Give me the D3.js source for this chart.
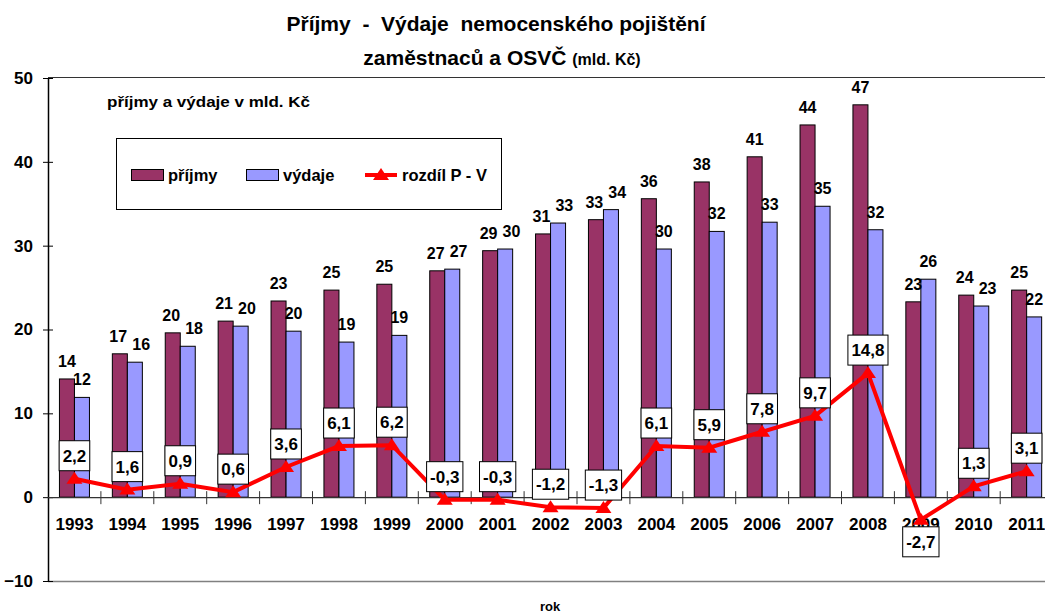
<!DOCTYPE html>
<html><head><meta charset="utf-8">
<script src="https://cdn.jsdelivr.net/npm/d3@7"></script>
<style>
body{margin:0;background:#fff}
svg{display:block}
text{font-family:"Liberation Sans",Arial,sans-serif;font-weight:bold;fill:#000}
</style>
</head><body>
<svg id="c" width="1045" height="615"></svg>
<script>
// ---- data ----
const years = ["1993","1994","1995","1996","1997","1998","1999","2000","2001","2002","2003","2004","2005","2006","2007","2008","2009","2010","2011"];
const prijmy = [14.1,17.1,19.6,21.0,23.4,24.7,25.4,27.0,29.4,31.4,33.1,35.6,37.6,40.6,44.4,46.8,23.3,24.1,24.7];
const vydaje = [11.9,16.1,18.0,20.4,19.8,18.5,19.3,27.2,29.6,32.7,34.3,29.6,31.7,32.8,34.7,31.9,26.0,22.8,21.5];
const rozdil = [2.2,0.9,1.6,0.6,3.6,6.1,6.2,-0.3,-0.3,-1.2,-1.3,6.1,5.9,7.8,9.7,14.8,-2.7,1.3,3.1];
const rozdilLabels = ["2,2","1,6","0,9","0,6","3,6","6,1","6,2","-0,3","-0,3","-1,2","-1,3","6,1","5,9","7,8","9,7","14,8","-2,7","1,3","3,1"];
const yTicks = [-10,0,10,20,30,40,50];
const seriesNames = ["příjmy","výdaje","rozdíl P - V"];
const titleLine1 = "Příjmy  -  Výdaje  nemocenského pojištění";
const titleLine2 = "zaměstnaců a OSVČ";
const titleUnit = "(mld. Kč)";
const subTitle = "příjmy a výdaje v mld. Kč";
const xTitle = "rok";

(function() {
// ---- styles ----
const colP = "#993366", colV = "#9999FF", colL = "#FF0000";
const FF = '"Liberation Sans",Arial,sans-serif';

const svg = d3.select("#c");
const pLeft = 48, pTop = 78, pBottom = 581, step = 52.9;
const x = d3.scaleBand().domain(years).range([pLeft, pLeft + step * years.length]).padding(0);
const xs = d3.scaleBand().domain(["p","v"]).range([0, x.bandwidth()]).paddingInner(0).paddingOuter(0.763);
const y = d3.scaleLinear().domain([-10, 50]).range([pBottom, pTop]);

const rows = years.map((yr, i) => ({yr, p: prijmy[i], v: vydaje[i], d: rozdil[i], lab: rozdilLabels[i]}));

// frame
svg.append("line").attr("x1", pLeft).attr("x2", 1045).attr("y1", pTop - 0.5).attr("y2", pTop - 0.5).attr("stroke", "#333").attr("stroke-width", 1.2);
svg.append("line").attr("x1", pLeft).attr("x2", 1045).attr("y1", pBottom + 0.5).attr("y2", pBottom + 0.5).attr("stroke", "#808080").attr("stroke-width", 1.5);

// bars
const g = svg.append("g");
const grp = g.selectAll("g.yr").data(rows).join("g").attr("transform", d => `translate(${x(d.yr)},0)`);
grp.append("rect").attr("x", xs("p")).attr("width", xs.bandwidth())
  .attr("y", d => y(Math.max(0, d.p))).attr("height", d => Math.abs(y(d.p) - y(0)))
  .attr("fill", colP).attr("stroke", "#000").attr("stroke-width", 1);
grp.append("rect").attr("x", xs("v")).attr("width", xs.bandwidth())
  .attr("y", d => y(Math.max(0, d.v))).attr("height", d => Math.abs(y(d.v) - y(0)))
  .attr("fill", colV).attr("stroke", "#000").attr("stroke-width", 1);
const tp = grp.append("text").attr("x", xs("p") + xs.bandwidth() / 2).attr("y", d => y(d.p) - 12)
  .attr("text-anchor", "middle").style("font-size", "16px").text(d => d3.format(".0f")(d.p));
const tv = grp.append("text").attr("x", xs("v") + xs.bandwidth() / 2).attr("y", d => y(d.v) - 12)
  .attr("text-anchor", "middle").style("font-size", "16px").text(d => d3.format(".0f")(d.v));
// avoid overlap of the two value labels in a group
grp.each(function(d) {
  const gp = d3.select(this);
  const a = gp.select("text:nth-of-type(1)").node(), b = gp.select("text:nth-of-type(2)").node();
  if (Math.abs(y(d.p) - y(d.v)) < 14) {
    const ba = a.getBBox(), bb = b.getBBox();
    const need = ba.x + ba.width + 5 - bb.x;
    if (need > 0) {
      d3.select(a).attr("x", +d3.select(a).attr("x") - need * 0.2);
      d3.select(b).attr("x", +d3.select(b).attr("x") + need * 0.8);
    }
  }
});

// y axis
const yAxis = svg.append("g").attr("transform", `translate(${pLeft},0)`)
  .call(d3.axisLeft(y).tickValues(yTicks).tickSize(5).tickPadding(10).tickFormat(d3.format("d")));
yAxis.select(".domain").attr("stroke", "#000").attr("stroke-width", 1.5).attr("d", `M0.5,${pTop}V${pBottom}`);
yAxis.selectAll(".tick line").attr("x1", -5).attr("x2", 5).attr("stroke", "#000");
yAxis.selectAll(".tick text").style("font-size", "17px").style("font-family", FF).style("font-weight", "bold").attr("fill", "#000");

// zero axis with category ticks
const xAxis = svg.append("g").attr("transform", `translate(0,${y(0)})`)
  .call(d3.axisBottom(x).tickSize(0).tickPadding(21));
xAxis.select(".domain").attr("stroke", "#333").attr("stroke-width", 1.3).attr("d", `M${pLeft},0.5H1045`);
xAxis.selectAll(".tick text").style("font-size", "17px").style("font-family", FF).style("font-weight", "bold").attr("fill", "#000");
const bounds = years.slice(1).map(yr => x(yr));
xAxis.selectAll("line.ct").data(bounds).join("line").attr("class", "ct")
  .attr("x1", d => d).attr("x2", d => d).attr("y1", -6).attr("y2", 7).attr("stroke", "#333").attr("stroke-width", 1);

// difference line
const cx = d => x(d.yr) + x.bandwidth() / 2;
const line = d3.line().x(cx).y(d => y(d.d));
svg.append("path").datum(rows).attr("d", line).attr("fill", "none").attr("stroke", colL).attr("stroke-width", 4).attr("stroke-linejoin", "miter");
const tri = "M0,-7L8,5L-8,5Z";
svg.selectAll("path.mk").data(rows).join("path").attr("class", "mk")
  .attr("transform", d => `translate(${cx(d)},${y(d.d)})`).attr("d", tri).attr("fill", colL);

// label boxes
const lb = svg.selectAll("g.lb").data(rows).join("g").attr("class", "lb")
  .attr("transform", d => `translate(${cx(d)},${d.d < -2 ? y(d.d) + 22 : y(d.d) - 23})`);
lb.append("rect").attr("fill", "#fff").attr("stroke", "#000").attr("stroke-width", 1);
lb.append("text").attr("text-anchor", "middle").attr("dy", "0.36em").style("font-size", "17px").text(d => d.lab);
lb.each(function() {
  const t = d3.select(this).select("text");
  const w = t.node().getComputedTextLength() + 7;
  d3.select(this).select("rect").attr("x", -w / 2).attr("y", -15).attr("width", w).attr("height", 30);
});

// titles
svg.append("text").attr("x", 496).attr("y", 31).attr("text-anchor", "middle").style("font-size", "21px").style("white-space", "pre").text(titleLine1);
const t2 = svg.append("text").attr("x", 502).attr("y", 65).attr("text-anchor", "middle").style("white-space", "pre");
t2.append("tspan").style("font-size", "21px").text(titleLine2 + " ");
t2.append("tspan").style("font-size", "16px").text(titleUnit);
svg.append("text").attr("x", 107).attr("y", 107).style("font-size", "15px")
  .attr("textLength", 203).attr("lengthAdjust", "spacingAndGlyphs").text(subTitle);
svg.append("text").attr("x", 550).attr("y", 611).attr("text-anchor", "middle").style("font-size", "13px").text(xTitle);

// legend
const lg = svg.append("g");
lg.append("rect").attr("x", 116.5).attr("y", 138.5).attr("width", 385).attr("height", 71).attr("fill", "#fff").attr("stroke", "#000");
lg.append("rect").attr("x", 131.5).attr("y", 169.5).attr("width", 32).attr("height", 11).attr("fill", colP).attr("stroke", "#000");
lg.append("text").attr("x", 168).attr("y", 181).style("font-size", "16.5px").text(seriesNames[0]);
lg.append("rect").attr("x", 246.5).attr("y", 169.5).attr("width", 32).attr("height", 11).attr("fill", colV).attr("stroke", "#000");
lg.append("text").attr("x", 283).attr("y", 181).style("font-size", "16.5px").text(seriesNames[1]);
lg.append("line").attr("x1", 365).attr("x2", 397).attr("y1", 175).attr("y2", 175).attr("stroke", colL).attr("stroke-width", 4);
lg.append("path").attr("transform", "translate(381,175)").attr("d", tri).attr("fill", colL);
lg.append("text").attr("x", 402).attr("y", 181).style("font-size", "16.5px").text(seriesNames[2]);
})();
</script>
</body></html>
